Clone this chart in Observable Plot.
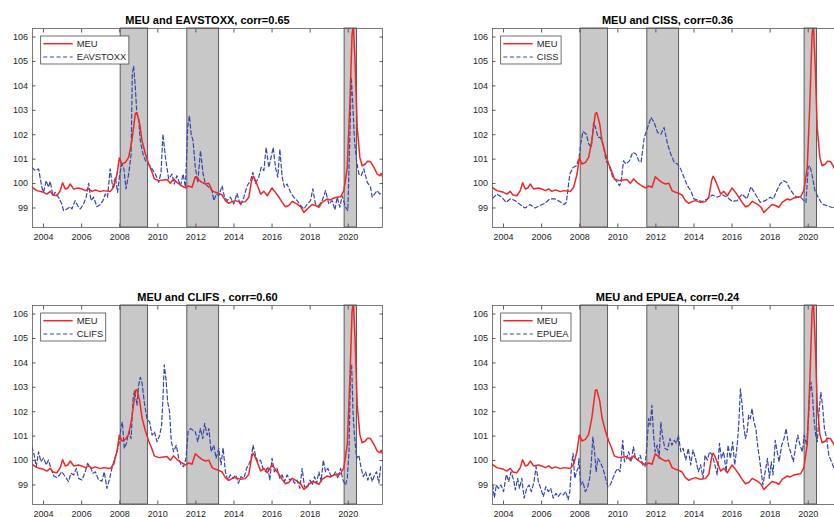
<!DOCTYPE html>
<html>
<head>
<meta charset="utf-8">
<script src="https://cdn.jsdelivr.net/npm/d3@7"></script>
<script src="https://cdn.jsdelivr.net/npm/@observablehq/plot@0.6"></script>
<style>
  html, body { margin: 0; padding: 0; background: #fff; }
  #figure { position: relative; width: 834px; height: 517px; overflow: hidden; background: #fff; }
  .panel { position: absolute; width: 400px; height: 250px; }
  .panel svg { max-width: none !important; }
</style>
</head>
<body>
<div id="figure"></div>
<script>
// Macroeconomic uncertainty (MEU) index, [year, value]
const meu = [
  [2003.39, 99.85], [2003.65, 99.71], [2004.0, 99.64], [2004.17, 99.57], [2004.35, 99.68],
  [2004.5, 99.53], [2004.7, 99.5], [2004.88, 99.71], [2005.0, 100.03], [2005.14, 99.78],
  [2005.28, 99.82], [2005.4, 99.98], [2005.58, 99.78], [2005.84, 99.82], [2006.0, 99.78],
  [2006.2, 99.71], [2006.37, 99.78], [2006.54, 99.68], [2006.72, 99.74], [2006.98, 99.67],
  [2007.15, 99.71], [2007.5, 99.67], [2007.68, 99.85], [2007.86, 100.39], [2007.98, 101.05],
  [2008.12, 100.8], [2008.3, 100.87], [2008.47, 101.07], [2008.64, 101.76], [2008.82, 102.87],
  [2008.9, 102.9], [2009.05, 102.44], [2009.17, 101.76], [2009.35, 101.21], [2009.52, 100.8],
  [2009.7, 100.46], [2009.82, 100.19], [2010.05, 100.12], [2010.3, 100.15], [2010.48, 100.17],
  [2010.66, 100.01], [2010.83, 100.19], [2011.0, 100.05], [2011.27, 99.9], [2011.45, 99.82],
  [2011.62, 99.9], [2011.8, 99.85], [2011.97, 100.28], [2012.15, 100.15], [2012.32, 100.05],
  [2012.5, 99.98], [2012.68, 100.01], [2012.85, 99.71], [2013.03, 99.64], [2013.2, 99.6],
  [2013.38, 99.53], [2013.55, 99.3], [2013.73, 99.19], [2013.9, 99.26], [2014.08, 99.3],
  [2014.34, 99.23], [2014.6, 99.26], [2014.78, 99.44], [2014.92, 100.1], [2015.0, 100.3],
  [2015.08, 100.2], [2015.2, 99.98], [2015.4, 99.57], [2015.57, 99.68], [2015.75, 99.5],
  [2016.0, 99.82], [2016.18, 99.64], [2016.36, 99.44], [2016.53, 99.23], [2016.7, 99.05],
  [2016.88, 99.1], [2017.06, 99.27], [2017.32, 99.16], [2017.5, 99.05], [2017.67, 98.82],
  [2017.85, 98.96], [2018.1, 99.14], [2018.28, 99.1], [2018.46, 99.03], [2018.63, 99.23],
  [2018.9, 99.37], [2019.07, 99.33], [2019.25, 99.41], [2019.42, 99.44], [2019.6, 99.46],
  [2019.77, 99.71], [2019.95, 100.66], [2020.09, 103.39], [2020.2, 106.1], [2020.27, 106.5],
  [2020.37, 104.76], [2020.47, 102.3], [2020.61, 101.07], [2020.73, 100.73], [2020.9, 100.8],
  [2021.0, 100.91], [2021.17, 100.9], [2021.35, 100.66], [2021.52, 100.39], [2021.66, 100.32],
  [2021.73, 100.42], [2021.8, 100.28]
];

// Euro area VSTOXX volatility index (rescaled)
const eavstoxx = [
  [2003.39, 100.66], [2003.56, 100.53], [2003.74, 100.6], [2003.91, 99.85], [2004.0, 99.64],
  [2004.14, 100.12], [2004.26, 99.85], [2004.35, 100.09], [2004.49, 99.5], [2004.61, 99.64],
  [2004.79, 99.44], [2004.96, 99.16], [2005.05, 98.89], [2005.23, 98.96], [2005.4, 99.05],
  [2005.49, 98.96], [2005.66, 99.3], [2005.79, 99.1], [2005.93, 98.96], [2006.1, 99.16],
  [2006.24, 99.44], [2006.37, 100.01], [2006.49, 99.3], [2006.63, 99.44], [2006.8, 99.05],
  [2006.98, 99.14], [2007.12, 99.3], [2007.24, 99.57], [2007.36, 99.44], [2007.5, 100.6],
  [2007.63, 99.85], [2007.77, 100.26], [2007.89, 99.64], [2008.0, 100.39], [2008.12, 100.8],
  [2008.21, 100.66], [2008.33, 99.78], [2008.47, 100.39], [2008.6, 101.21], [2008.66, 104.48],
  [2008.73, 104.82], [2008.82, 103.94], [2008.9, 102.85], [2008.99, 102.7], [2009.08, 101.76],
  [2009.22, 101.21], [2009.35, 100.94], [2009.52, 100.8], [2009.7, 100.6], [2009.87, 100.39],
  [2010.05, 100.05], [2010.17, 100.46], [2010.27, 102.03], [2010.4, 101.07], [2010.57, 100.19],
  [2010.75, 100.39], [2010.87, 99.98], [2011.0, 100.32], [2011.19, 99.91], [2011.33, 100.39],
  [2011.45, 99.85], [2011.57, 102.3], [2011.66, 102.78], [2011.75, 102.03], [2011.85, 101.76],
  [2011.97, 100.66], [2012.1, 100.05], [2012.24, 101.35], [2012.38, 100.39], [2012.5, 99.98],
  [2012.68, 99.85], [2012.85, 99.71], [2012.94, 99.3], [2013.08, 99.57], [2013.2, 99.5],
  [2013.38, 99.91], [2013.5, 99.44], [2013.64, 99.3], [2013.81, 99.44], [2013.99, 99.16],
  [2014.16, 99.6], [2014.34, 99.1], [2014.52, 99.44], [2014.69, 99.91], [2014.87, 100.12],
  [2014.99, 100.46], [2015.13, 100.01], [2015.3, 100.26], [2015.43, 100.66], [2015.57, 100.53],
  [2015.69, 101.48], [2015.83, 100.66], [2015.95, 101.07], [2016.06, 101.48], [2016.18, 100.66],
  [2016.3, 100.26], [2016.41, 101.41], [2016.53, 100.26], [2016.65, 99.85], [2016.79, 99.98],
  [2016.97, 99.64], [2017.14, 99.44], [2017.32, 99.3], [2017.5, 99.1], [2017.67, 98.96],
  [2017.85, 99.16], [2018.02, 99.3], [2018.14, 99.78], [2018.28, 99.16], [2018.46, 99.1],
  [2018.63, 99.3], [2018.81, 99.71], [2018.98, 99.16], [2019.16, 99.3], [2019.3, 98.92],
  [2019.42, 99.44], [2019.56, 99.03], [2019.68, 99.5], [2019.86, 99.03], [2019.98, 98.89],
  [2020.09, 102.03], [2020.16, 104.35], [2020.23, 103.39], [2020.33, 101.76], [2020.44, 100.94],
  [2020.56, 100.39], [2020.68, 100.32], [2020.82, 100.6], [2021.0, 100.05], [2021.17, 99.85],
  [2021.26, 99.44], [2021.38, 99.57], [2021.52, 99.71], [2021.66, 99.57], [2021.8, 99.64]
];

// Composite indicator of systemic stress
const ciss = [
  [2003.43, 99.4], [2003.65, 99.57], [2003.91, 99.44], [2004.14, 99.23], [2004.35, 99.37],
  [2004.61, 99.3], [2004.87, 99.14], [2005.13, 99.0], [2005.39, 99.14], [2005.65, 99.0],
  [2005.91, 99.1], [2006.17, 99.19], [2006.43, 99.37], [2006.7, 99.37], [2006.96, 99.26],
  [2007.17, 99.14], [2007.3, 99.23], [2007.48, 100.39], [2007.65, 100.66], [2007.83, 100.73],
  [2007.97, 101.07], [2008.05, 101.62], [2008.17, 102.13], [2008.35, 102.02], [2008.47, 101.62],
  [2008.61, 101.48], [2008.73, 102.5], [2008.83, 102.3], [2008.96, 101.89], [2009.08, 101.89],
  [2009.22, 101.62], [2009.39, 100.93], [2009.57, 100.66], [2009.74, 100.25], [2009.91, 100.12],
  [2010.09, 99.91], [2010.17, 100.05], [2010.3, 100.93], [2010.43, 100.8], [2010.61, 100.93],
  [2010.78, 101.28], [2010.96, 101.21], [2011.1, 100.93], [2011.22, 100.87], [2011.39, 101.89],
  [2011.57, 102.3], [2011.74, 102.71], [2011.91, 102.5], [2012.09, 102.09], [2012.26, 102.02],
  [2012.43, 102.3], [2012.61, 101.62], [2012.78, 101.21], [2012.96, 100.87], [2013.13, 100.8],
  [2013.3, 100.6], [2013.48, 100.25], [2013.65, 99.91], [2013.83, 99.71], [2014.0, 99.37],
  [2014.17, 99.33], [2014.43, 99.26], [2014.7, 99.37], [2014.96, 99.53], [2015.22, 99.44],
  [2015.48, 99.54], [2015.74, 99.44], [2016.0, 99.27], [2016.26, 99.3], [2016.52, 99.57],
  [2016.78, 99.37], [2016.99, 99.87], [2017.22, 99.57], [2017.48, 99.23], [2017.74, 99.3],
  [2018.0, 99.44], [2018.17, 99.37], [2018.35, 99.71], [2018.52, 99.98], [2018.7, 100.12],
  [2018.87, 100.05], [2019.04, 99.78], [2019.22, 99.57], [2019.39, 99.44], [2019.57, 99.46],
  [2019.74, 99.33], [2019.88, 99.23], [2020.0, 100.66], [2020.09, 100.73], [2020.21, 100.32],
  [2020.35, 99.71], [2020.52, 99.44], [2020.73, 99.16], [2020.96, 99.1], [2021.22, 99.03],
  [2021.5, 99.0], [2021.8, 99.0]
];

// Country-level index of financial stress
const clifs = [
  [2003.39, 100.56], [2003.51, 100.22], [2003.62, 99.75], [2003.74, 100.36], [2003.86, 99.95],
  [2004.0, 100.11], [2004.14, 99.82], [2004.26, 100.02], [2004.39, 99.68], [2004.53, 99.38],
  [2004.7, 99.3], [2004.84, 99.41], [2004.96, 99.54], [2005.14, 99.34], [2005.31, 99.14],
  [2005.44, 99.48], [2005.58, 99.41], [2005.72, 99.68], [2005.84, 99.27], [2006.02, 99.2],
  [2006.19, 99.54], [2006.31, 99.88], [2006.45, 99.75], [2006.59, 99.48], [2006.72, 99.54],
  [2006.89, 99.2], [2007.07, 99.16], [2007.19, 99.54], [2007.33, 98.86], [2007.47, 99.27],
  [2007.59, 99.68], [2007.73, 100.09], [2007.86, 100.36], [2007.98, 100.77], [2008.07, 101.38],
  [2008.14, 101.58], [2008.24, 100.5], [2008.35, 100.7], [2008.47, 101.18], [2008.6, 100.9],
  [2008.7, 102.53], [2008.78, 102.87], [2008.91, 102.26], [2008.99, 103.07], [2009.08, 103.41],
  [2009.17, 103.2], [2009.29, 102.39], [2009.43, 101.72], [2009.57, 101.58], [2009.7, 101.04],
  [2009.82, 101.18], [2009.96, 100.77], [2010.1, 101.04], [2010.2, 101.45], [2010.27, 102.53],
  [2010.34, 103.92], [2010.43, 103.35], [2010.52, 102.39], [2010.62, 101.99], [2010.71, 100.77],
  [2010.83, 100.36], [2010.97, 100.63], [2011.1, 100.09], [2011.22, 99.82], [2011.36, 99.75],
  [2011.48, 100.09], [2011.59, 101.18], [2011.71, 101.31], [2011.85, 101.24], [2011.97, 101.18],
  [2012.1, 100.77], [2012.24, 101.31], [2012.36, 100.9], [2012.46, 101.52], [2012.59, 101.04],
  [2012.68, 101.31], [2012.8, 100.36], [2012.94, 100.63], [2013.06, 100.09], [2013.2, 100.5],
  [2013.32, 99.82], [2013.43, 100.52], [2013.55, 99.54], [2013.67, 99.2], [2013.81, 99.41],
  [2013.95, 99.27], [2014.09, 99.41], [2014.23, 99.07], [2014.37, 99.34], [2014.52, 99.27],
  [2014.66, 99.68], [2014.8, 99.88], [2014.9, 100.09], [2015.0, 100.63], [2015.13, 100.22],
  [2015.25, 99.95], [2015.39, 100.02], [2015.53, 99.68], [2015.65, 99.54], [2015.78, 99.75],
  [2015.88, 99.2], [2016.0, 100.09], [2016.12, 99.54], [2016.26, 99.68], [2016.41, 99.27],
  [2016.53, 99.41], [2016.65, 99.14], [2016.79, 99.41], [2016.93, 99.2], [2017.06, 99.27],
  [2017.18, 99.07], [2017.32, 99.2], [2017.46, 98.86], [2017.58, 99.68], [2017.7, 98.93],
  [2017.85, 98.86], [2017.99, 99.2], [2018.11, 99.0], [2018.23, 99.34], [2018.34, 99.07],
  [2018.46, 99.54], [2018.58, 99.14], [2018.69, 100.02], [2018.81, 99.54], [2018.93, 99.68],
  [2019.07, 99.41], [2019.21, 99.34], [2019.33, 99.54], [2019.46, 99.27], [2019.6, 99.68],
  [2019.72, 99.2], [2019.86, 99.0], [2019.95, 99.27], [2020.04, 100.36], [2020.12, 103.69],
  [2020.18, 103.9], [2020.25, 101.99], [2020.33, 101.04], [2020.44, 100.09], [2020.56, 100.22],
  [2020.68, 99.68], [2020.79, 99.34], [2020.91, 99.54], [2021.03, 99.2], [2021.15, 99.48],
  [2021.26, 99.14], [2021.38, 99.41], [2021.49, 99.54], [2021.61, 99.07], [2021.7, 99.75],
  [2021.8, 99.82]
];

// Economic policy uncertainty, euro area
const epuea = [
  [2003.43, 99.0], [2003.52, 98.48], [2003.62, 99.0], [2003.74, 98.86], [2003.86, 99.0],
  [2004.0, 98.73], [2004.15, 99.43], [2004.27, 99.14], [2004.39, 99.54], [2004.53, 99.2],
  [2004.62, 98.8], [2004.74, 99.27], [2004.84, 98.86], [2004.96, 99.27], [2005.08, 98.46],
  [2005.22, 98.86], [2005.34, 99.0], [2005.46, 98.73], [2005.6, 99.14], [2005.71, 99.75],
  [2005.83, 99.14], [2005.95, 98.86], [2006.09, 98.52], [2006.22, 98.93], [2006.35, 98.73],
  [2006.48, 98.86], [2006.61, 98.46], [2006.75, 98.66], [2006.87, 98.52], [2007.0, 98.66],
  [2007.13, 98.59], [2007.27, 98.73], [2007.39, 98.39], [2007.48, 98.73], [2007.57, 99.82],
  [2007.65, 100.29], [2007.74, 99.27], [2007.83, 99.54], [2007.91, 99.68], [2007.96, 100.09],
  [2008.05, 99.0], [2008.17, 99.14], [2008.29, 98.73], [2008.4, 98.86], [2008.52, 99.27],
  [2008.6, 99.82], [2008.69, 100.97], [2008.78, 100.36], [2008.86, 99.54], [2008.95, 100.09],
  [2009.07, 99.95], [2009.22, 99.68], [2009.36, 99.27], [2009.48, 98.93], [2009.6, 99.0],
  [2009.74, 99.27], [2009.88, 99.54], [2010.0, 99.68], [2010.12, 99.54], [2010.26, 100.83],
  [2010.35, 99.95], [2010.47, 100.09], [2010.57, 100.36], [2010.7, 99.95], [2010.82, 100.56],
  [2010.93, 100.09], [2011.05, 100.02], [2011.17, 100.22], [2011.31, 99.82], [2011.43, 99.75],
  [2011.53, 100.63], [2011.62, 101.72], [2011.7, 101.45], [2011.79, 102.26], [2011.88, 101.04],
  [2011.96, 100.36], [2012.07, 100.63], [2012.17, 100.09], [2012.26, 101.58], [2012.34, 101.04],
  [2012.47, 100.5], [2012.61, 100.43], [2012.74, 100.9], [2012.84, 100.63], [2012.96, 100.83],
  [2013.08, 100.7], [2013.18, 101.04], [2013.31, 100.36], [2013.43, 100.5], [2013.57, 100.02],
  [2013.7, 100.5], [2013.83, 99.82], [2013.95, 100.43], [2014.08, 100.09], [2014.23, 99.54],
  [2014.35, 99.82], [2014.48, 99.27], [2014.58, 100.22], [2014.7, 100.02], [2014.82, 100.36],
  [2014.96, 100.22], [2015.1, 99.82], [2015.22, 99.41], [2015.34, 100.7], [2015.44, 100.09],
  [2015.56, 100.36], [2015.69, 99.54], [2015.79, 100.63], [2015.91, 100.09], [2016.03, 100.77],
  [2016.14, 99.82], [2016.27, 100.63], [2016.35, 101.45], [2016.44, 102.94], [2016.53, 102.26],
  [2016.61, 101.45], [2016.7, 100.9], [2016.79, 101.17], [2016.87, 101.85], [2016.96, 101.72],
  [2017.05, 102.13], [2017.15, 101.58], [2017.25, 101.31], [2017.36, 100.5], [2017.44, 100.09],
  [2017.53, 99.54], [2017.62, 99.0], [2017.74, 99.54], [2017.86, 100.09], [2017.96, 99.27],
  [2018.06, 99.95], [2018.15, 99.41], [2018.27, 100.83], [2018.37, 100.36], [2018.47, 99.95],
  [2018.61, 100.63], [2018.73, 100.9], [2018.84, 101.31], [2018.96, 100.63], [2019.07, 100.36],
  [2019.22, 99.95], [2019.35, 100.63], [2019.45, 101.04], [2019.57, 100.63], [2019.69, 100.36],
  [2019.79, 101.04], [2019.92, 100.63], [2020.01, 101.72], [2020.08, 102.8], [2020.15, 103.21],
  [2020.22, 102.67], [2020.29, 101.85], [2020.39, 101.04], [2020.48, 100.77], [2020.57, 101.99],
  [2020.66, 102.8], [2020.75, 102.26], [2020.85, 101.31], [2020.97, 100.9], [2021.08, 100.22],
  [2021.22, 99.95], [2021.4, 99.6], [2021.6, 100.2], [2021.8, 99.9]
];

// Crisis episodes shaded in every panel
const crisisStart = [2008.05, 2011.55, 2019.81];
const crisisEnd = [2009.49, 2013.22, 2020.46];

// Axis ticks
const xTicks = [2004, 2006, 2008, 2010, 2012, 2014, 2016, 2018, 2020];
const yTicks = [99, 100, 101, 102, 103, 104, 105, 106];

const panels = [
  {title: "MEU and EAVSTOXX, corr=0.65", name: "EAVSTOXX", series: eavstoxx, left: 0, top: 0},
  {title: "MEU and CISS, corr=0.36", name: "CISS", series: ciss, left: 460, top: 0},
  {title: "MEU and CLIFS , corr=0.60", name: "CLIFS", series: clifs, left: 0, top: 277},
  {title: "MEU and EPUEA, corr=0.24", name: "EPUEA", series: epuea, left: 460, top: 277}
];

const RED = "#f22626";
const BLUE = "#3547ab";
const FONT = "'Liberation Sans', Arial, Helvetica, sans-serif";
const M = {left: 32, top: 28, right: 18, bottom: 23};

const crises = crisisStart.map((s, i) => ({start: s, end: crisisEnd[i]}));
const figure = document.getElementById("figure");

for (const p of panels) {
  const svg = Plot.plot({
    width: 400,
    height: 250,
    marginLeft: M.left,
    marginRight: M.right,
    marginTop: M.top,
    marginBottom: M.bottom,
    style: {fontFamily: FONT, fontSize: "9px", color: "#262626", background: "transparent", overflow: "visible", maxWidth: "none"},
    x: {domain: [2003.42, 2021.8], label: null},
    y: {domain: [98.2, 106.35], label: null},
    marks: [
      Plot.rect(crises, {x1: "start", x2: "end", fill: "#c8c8c8", stroke: "#4d4d4d", strokeWidth: 0.9}),
      Plot.line(p.series, {x: d => d[0], y: d => d[1], stroke: BLUE, strokeWidth: 1.2, strokeDasharray: "4,2.6", clip: true}),
      Plot.line(meu, {x: d => d[0], y: d => d[1], stroke: RED, strokeWidth: 1.5, clip: true}),
      Plot.frame({stroke: "#5a5a5a", strokeWidth: 0.8}),
      Plot.axisX(xTicks, {anchor: "bottom", tickSize: -3.5, tickPadding: 9.5, tickFormat: d => String(d), stroke: "#5a5a5a", fill: "#262626", label: null}),
      Plot.axisX(xTicks, {anchor: "top", tickSize: -3.5, tickFormat: () => "", stroke: "#5a5a5a", label: null}),
      Plot.axisY(yTicks, {anchor: "left", tickSize: -3.5, tickPadding: 8, tickFormat: d => String(d), stroke: "#5a5a5a", fill: "#262626", label: null}),
      Plot.axisY(yTicks, {anchor: "right", tickSize: -3.5, tickFormat: () => "", stroke: "#5a5a5a", label: null}),
      Plot.text([p.title], {frameAnchor: "top", lineAnchor: "bottom", dy: -5, fontWeight: "bold", fontSize: 11, fill: "#000"})
    ]
  });
  svg.style.maxWidth = "none";
  svg.setAttribute("width", 400);

  const holder = document.createElement("div");
  holder.className = "panel";
  holder.style.left = p.left + "px";
  holder.style.top = p.top + "px";
  holder.appendChild(svg);
  figure.appendChild(holder);

  // Legend box in the upper-left corner of the axes
  const g = d3.select(svg).append("g")
    .attr("transform", `translate(${M.left + 8.7},${M.top + 8})`)
    .attr("text-anchor", "start")
    .style("font-family", FONT)
    .style("font-size", "9.4px");
  const box = g.append("rect")
    .attr("fill", "#fff").attr("stroke", "#333").attr("stroke-width", 0.7)
    .attr("height", 28);
  const entries = [
    {label: "MEU", stroke: RED, width: 1.5, dash: null, y: 7.7},
    {label: p.name, stroke: BLUE, width: 1.2, dash: "4,2.6", y: 21}
  ];
  let textWidth = 0;
  for (const e of entries) {
    g.append("line")
      .attr("x1", 2.6).attr("x2", 32).attr("y1", e.y).attr("y2", e.y)
      .attr("stroke", e.stroke).attr("stroke-width", e.width)
      .attr("stroke-dasharray", e.dash);
    const t = g.append("text")
      .attr("x", 36).attr("y", e.y).attr("dy", "0.35em")
      .attr("text-anchor", "start")
      .attr("fill", "#262626")
      .text(e.label);
    textWidth = Math.max(textWidth, t.node().getComputedTextLength());
  }
  box.attr("width", 36 + textWidth + 2.5);
}
</script>
</body>
</html>
